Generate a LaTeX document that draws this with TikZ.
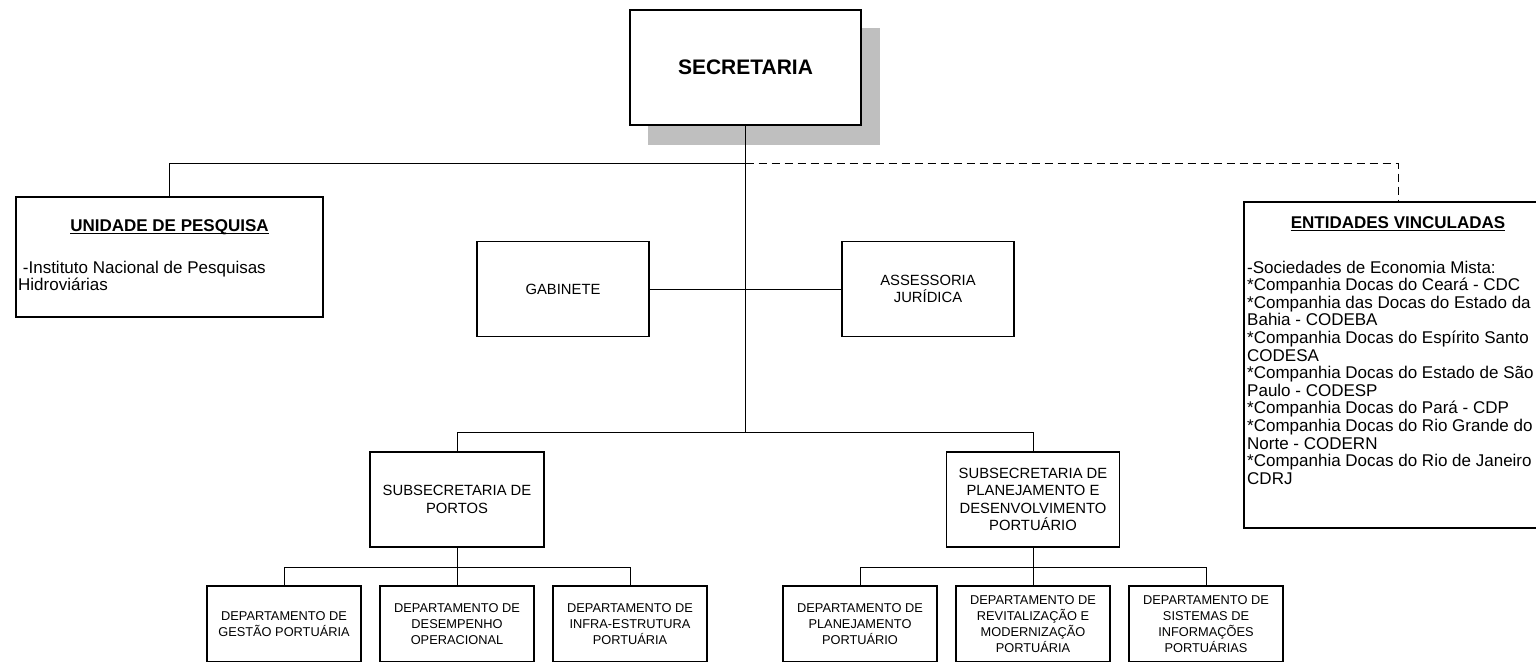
\documentclass[tikz,border=0pt]{standalone}
\usepackage{fontspec}
\setmainfont{Liberation Sans}
\usetikzlibrary{positioning}

\begin{document}
\begin{tikzpicture}[x=1pt, y=-1pt,
        box/.style={draw, line width=1.1pt, fill=white, inner sep=0pt, align=center},
        big/.style={font=\fontsize{14.8}{17.5}\selectfont},
        small/.style={font=\fontsize{12.8}{15.8}\selectfont},
        body/.style={font=\fontsize{17}{17.6}\selectfont, align=left, inner sep=0pt, anchor=north west},
        head/.style={font=\fontsize{17}{20}\selectfont\bfseries, inner sep=0pt},
        dept/.style={box, small, minimum width=154pt, minimum height=76pt},
        link/.style={line width=0.8pt}]
        \useasboundingbox (0,0) rectangle (1536,661);
        \clip (0,0) rectangle (1536,661);

        % secretaria com sombra
        \fill[black!25] (648,28) rectangle (880,145);
        \node[box, minimum width=231pt, minimum height=115pt, font=\fontsize{21}{24}\selectfont\bfseries] (sec) at (745.5,67.5) {SECRETARIA};

        \node[box, minimum width=307pt, minimum height=120pt] (unid) at (169.5,257) {};
        \node[head] (unidtit) at (169.5,227) {UNIDADE DE PESQUISA};
        \draw[line width=1.2pt] ([yshift=-2pt]unidtit.base west) -- ([yshift=-2pt]unidtit.base east);
        \node[body] (unidtxt) at (18,260.5) {\ -Instituto Nacional de Pesquisas\\Hidroviárias};

        \node[box, minimum width=308pt, minimum height=326pt] (ent) at (1398,365) {};
        \node[head] (enttit) at (1398,223) {ENTIDADES VINCULADAS};
        \draw[line width=1.2pt] ([yshift=-2pt]enttit.base west) -- ([yshift=-2pt]enttit.base east);
        \node[body] (enttxt) at (1247,260.5) {-Sociedades de Economia Mista:\\
            *Companhia Docas do Ceará - CDC\\
            *Companhia das Docas do Estado da\\Bahia - CODEBA\\
            *Companhia Docas do Espírito Santo\\CODESA\\
            *Companhia Docas do Estado de São\\Paulo - CODESP\\
            *Companhia Docas do Pará - CDP\\
            *Companhia Docas do Rio Grande do\\Norte - CODERN\\
            *Companhia Docas do Rio de Janeiro\\CDRJ};

        \node[box, big, minimum width=172pt, minimum height=95pt] (gab) at (563,289) {GABINETE};
        \node[box, big, minimum width=172pt, minimum height=95pt] (ass) at (928,289) {ASSESSORIA\\JURÍDICA};

        \node[box, big, minimum width=174pt, minimum height=95pt] (subport) at (457,499.5) {SUBSECRETARIA DE\\PORTOS};
        \node[box, big, minimum width=173pt, minimum height=95pt] (subplan) at (1033,499.5) {SUBSECRETARIA DE\\PLANEJAMENTO E\\DESENVOLVIMENTO\\PORTUÁRIO};

        \node[dept] (dgest) at (284,624) {DEPARTAMENTO DE\\GESTÃO PORTUÁRIA};
        \node[dept] (ddesemp) at (457,624) {DEPARTAMENTO DE\\DESEMPENHO\\OPERACIONAL};
        \node[dept] (dinfra) at (630,624) {DEPARTAMENTO DE\\INFRA-ESTRUTURA\\PORTUÁRIA};
        \node[dept] (dplan) at (860,624) {DEPARTAMENTO DE\\PLANEJAMENTO\\PORTUÁRIO};
        \node[dept] (drevit) at (1033,624) {DEPARTAMENTO DE\\REVITALIZAÇÃO E\\MODERNIZAÇÃO\\PORTUÁRIA};
        \node[dept] (dsist) at (1206,624) {DEPARTAMENTO DE\\SISTEMAS DE\\INFORMAÇÕES\\PORTUÁRIAS};

        \coordinate (topbus) at (745.5,163);
        \coordinate (midbus) at (745.5,432);
        \coordinate (portbus) at (457,567);
        \coordinate (planbus) at (1033,567);

        \draw[link] (sec.south) -- (midbus);
        \draw[link] (topbus) -| (unid.north);
        \draw[link, dash pattern=on 8pt off 5pt] (topbus) -| (ent.north);
        \draw[link] (gab.east) -- (ass.west);
        \draw[link] (midbus) -| (subport.north);
        \draw[link] (midbus) -| (subplan.north);
        \draw[link] (subport.south) -- (portbus);
        \draw[link] (subplan.south) -- (planbus);
        \foreach \d in {dgest, ddesemp, dinfra}
            \draw[link] (portbus) -| (\d.north);
        \foreach \d in {dplan, drevit, dsist}
            \draw[link] (planbus) -| (\d.north);
    \end{tikzpicture}
\end{document}
